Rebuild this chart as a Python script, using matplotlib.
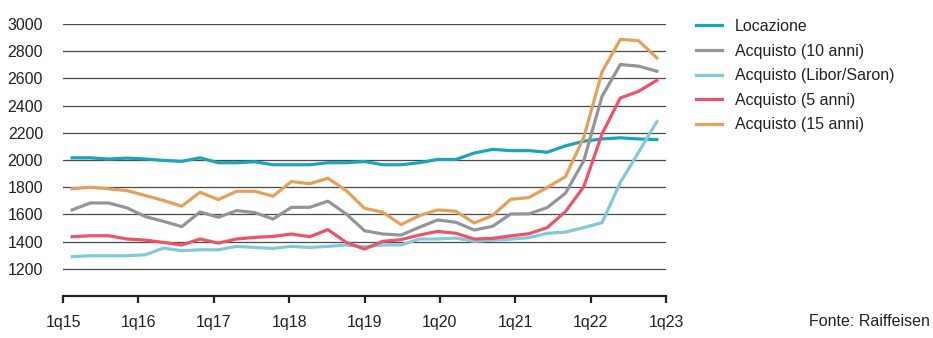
import matplotlib
matplotlib.use("Agg")
import matplotlib.pyplot as plt
import numpy as np

plt.rcParams['font.family'] = ['Liberation Sans', 'DejaVu Sans']

# quarters 1q15 .. 1q23 (33 points)
tick_labels = ['1q15', '1q16', '1q17', '1q18', '1q19', '1q20', '1q21', '1q22', '1q23']

locazione = [2016, 2016, 2007, 2014, 2007, 1997, 1990, 2016, 1980, 1980, 1987, 1965,
             1965, 1965, 1980, 1980, 1989, 1965, 1965, 1980, 2004, 2004, 2051, 2078,
             2069, 2069, 2057, 2104, 2138, 2155, 2163, 2155, 2150]
acq_10 = [1633, 1684, 1684, 1648, 1584, 1549, 1510, 1618, 1579, 1628, 1613, 1566,
          1652, 1652, 1697, 1603, 1480, 1456, 1448, 1505, 1559, 1542, 1485, 1512,
          1603, 1604, 1650, 1756, 1995, 2468, 2702, 2690, 2653]
acq_libor = [1289, 1296, 1296, 1296, 1303, 1352, 1333, 1340, 1340, 1365, 1357, 1350,
             1365, 1357, 1365, 1375, 1362, 1375, 1375, 1419, 1419, 1426, 1402, 1411,
             1418, 1429, 1461, 1470, 1503, 1539, 1835, 2057, 2283]
acq_5 = [1436, 1443, 1443, 1419, 1411, 1394, 1375, 1419, 1389, 1419, 1431, 1438,
         1456, 1436, 1488, 1394, 1345, 1402, 1414, 1448, 1475, 1461, 1419, 1424,
         1442, 1458, 1503, 1621, 1803, 2192, 2456, 2505, 2586]
acq_15 = [1788, 1800, 1788, 1775, 1739, 1702, 1660, 1763, 1709, 1770, 1770, 1734,
          1842, 1825, 1866, 1775, 1645, 1616, 1525, 1591, 1633, 1623, 1537, 1591,
          1711, 1724, 1798, 1877, 2167, 2648, 2887, 2877, 2751]

series = [
    ('Locazione', locazione, '#19a6b9'),
    ('Acquisto (10 anni)', acq_10, '#949598'),
    ('Acquisto (Libor/Saron)', acq_libor, '#80cbd9'),
    ('Acquisto (5 anni)', acq_5, '#eb5469'),
    ('Acquisto (15 anni)', acq_15, '#e5a05a'),
]

FS = 11.5
n = len(locazione)
x = (np.arange(n) + 0.5) * 32 / n

fig = plt.figure(figsize=(9.33, 3.38), dpi=100)
ax = fig.add_axes([63 / 933, 1 - 296 / 338, 603 / 933, 272 / 338])

for yv in range(1200, 3001, 200):
    ax.axhline(yv, color='#4a4a4a', lw=0.9, zorder=1)

for label, vals, col in series:
    ax.plot(x, vals, color=col, lw=2.3, label=label, zorder=3, solid_joinstyle='round')

ax.set_xlim(0, 32)
ax.set_ylim(1000, 3000)
ax.set_xticks(np.arange(0, 33, 4))
ax.set_xticklabels(tick_labels, fontsize=FS)
ax.set_yticks(range(1200, 3001, 200))
ax.set_yticklabels([str(v) for v in range(1200, 3001, 200)], fontsize=FS)

for s in ['top', 'right', 'left']:
    ax.spines[s].set_visible(False)
ax.spines['bottom'].set_linewidth(1.6)
ax.spines['bottom'].set_color('#222222')
ax.tick_params(axis='x', direction='out', length=5, width=1.6, color='#222222', pad=9,
               labelcolor='#222222')
ax.tick_params(axis='y', length=0, pad=14.4, labelcolor='#222222')

fig.legend(loc='upper left', bbox_to_anchor=(696 / 933, 1 - 19 / 338), frameon=False,
           fontsize=FS, handlelength=1.63, handletextpad=0.8, labelspacing=0.6,
           borderpad=0, borderaxespad=0, labelcolor='#222222')

fig.text(930 / 933, 1 - 322 / 338, 'Fonte: Raiffeisen', ha='right', va='center',
         fontsize=FS, color='#222222')

fig.savefig('out.png', dpi=100)
